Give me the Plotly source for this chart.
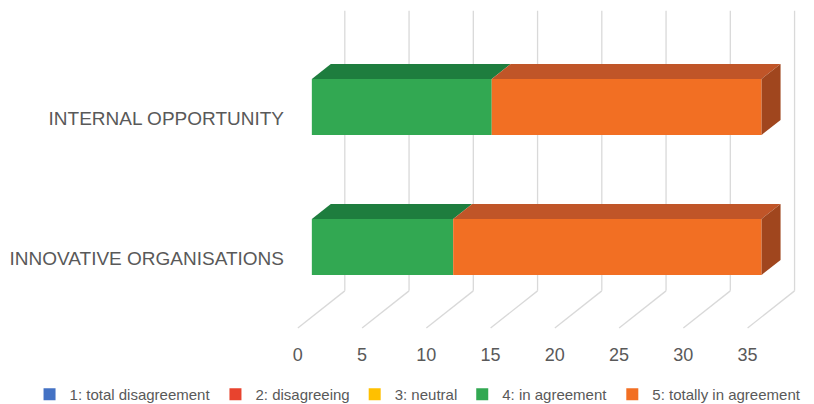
import plotly.graph_objects as go

# ---------------- data ----------------
categories = ["INNOVATIVE ORGANISATIONS", "INTERNAL OPPORTUNITY"]
series_names = ["1: total disagreement", "2: disagreeing", "3: neutral",
                "4: in agreement", "5: totally in agreement"]
s1_total_disagreement = [0, 0]
s2_disagreeing = [0, 0]
s3_neutral = [0, 0]
s4_in_agreement = [11, 14]
s5_totally_in_agreement = [24, 21]
x_ticks = [0, 5, 10, 15, 20, 25, 30, 35]

series_values = [s1_total_disagreement, s2_disagreeing, s3_neutral,
                 s4_in_agreement, s5_totally_in_agreement]
front_colors = ["#4472C4", "#E8432E", "#FFC000", "#32A852", "#F26F23"]
top_colors = ["#2F5597", "#B02E20", "#C79600", "#1E7D3E", "#C05528"]
side_colors = ["#284A85", "#952518", "#A67C00", "#19662F", "#A0461E"]

# ------------- oblique 3D projection helpers -------------
PX_PER_X = 12.86     # pixels per value unit
PX_PER_Y = 140.0     # pixels per category unit
SLOPE = 0.79         # vertical rise per pixel of depth
D_FRONT, D_BACK, D_WALL = 14.0, 33.0, 47.0
BAR_W = 0.4


def dx(d):
    return d / PX_PER_X


def dy(d):
    return SLOPE * d / PX_PER_Y


fig = go.Figure()

# front faces (real bars) + legend entries
for k, (name, vals) in enumerate(zip(series_names, series_values)):
    bases = []
    for i in range(len(categories)):
        cum = sum(series_values[j][i] for j in range(k))
        bases.append(dx(D_FRONT) + cum)
    fig.add_trace(go.Bar(
        name=name, orientation="h",
        y=[i + dy(D_FRONT) for i in range(len(categories))],
        x=vals, base=bases, width=BAR_W,
        marker=dict(color=front_colors[k], line=dict(width=0)),
        customdata=categories,
        hovertemplate="%{customdata}<br>" + name + ": %{x}<extra></extra>",
    ))

# top and side faces
ddx = dx(D_BACK) - dx(D_FRONT)
ddy = dy(D_BACK) - dy(D_FRONT)
for i in range(len(categories)):
    yc = i + dy(D_FRONT)
    yt, yb = yc + BAR_W / 2, yc - BAR_W / 2
    cum = 0
    last_k = None
    for k, vals in enumerate(series_values):
        v = vals[i]
        if v <= 0:
            continue
        x0 = dx(D_FRONT) + cum
        x1 = x0 + v
        fig.add_trace(go.Scatter(
            x=[x0, x1, x1 + ddx, x0 + ddx, x0],
            y=[yt, yt, yt + ddy, yt + ddy, yt],
            mode="lines", fill="toself", fillcolor=top_colors[k],
            line=dict(width=0, color=top_colors[k]),
            showlegend=False, hoverinfo="skip"))
        cum += v
        last_k = k
    if last_k is not None:
        x1 = dx(D_FRONT) + cum
        fig.add_trace(go.Scatter(
            x=[x1, x1, x1 + ddx, x1 + ddx, x1],
            y=[yt, yb, yb + ddy, yt + ddy, yt],
            mode="lines", fill="toself", fillcolor=side_colors[last_k],
            line=dict(width=0, color=side_colors[last_k]),
            showlegend=False, hoverinfo="skip"))

# back-wall and floor gridlines (behind everything)
y_floor_front = -0.5
y_floor_back = y_floor_front + dy(D_WALL)
y_wall_top = len(categories) - 0.5 + dy(D_WALL)
shapes = []
for t in x_ticks:
    shapes.append(dict(type="line", xref="x", yref="y", layer="below",
                       x0=t + dx(D_WALL), x1=t + dx(D_WALL),
                       y0=y_floor_back, y1=y_wall_top,
                       line=dict(color="#D9D9D9", width=1.3)))
    shapes.append(dict(type="line", xref="x", yref="y", layer="below",
                       x0=t, x1=t + dx(D_WALL),
                       y0=y_floor_front, y1=y_floor_back,
                       line=dict(color="#D9D9D9", width=1.3)))

fig.update_layout(
    width=814, height=404,
    margin=dict(l=285, r=14.6, t=5, b=69, autoexpand=False),
    paper_bgcolor="white", plot_bgcolor="white",
    barmode="overlay",
    shapes=shapes,
    font=dict(family="Liberation Sans, Arial, sans-serif", color="#595959"),
    xaxis=dict(range=[-1, 39], tickvals=x_ticks, showgrid=False,
               zeroline=False, showline=False, ticks="",
               tickfont=dict(size=18, color="#595959"),
               ticklabelstandoff=7, fixedrange=True),
    yaxis=dict(range=[-0.55, 1.807], tickvals=list(range(len(categories))),
               ticktext=categories, showgrid=False, zeroline=False,
               showline=False, ticks="",
               tickfont=dict(size=19, color="#595959"), fixedrange=True),
    legend=dict(orientation="h", xref="paper", yref="paper",
                x=-0.497, xanchor="left",
                y=-0.13, yanchor="top",
                font=dict(size=15, color="#595959"),
                traceorder="normal"),
    showlegend=True,
)

fig.write_html("out.html")
